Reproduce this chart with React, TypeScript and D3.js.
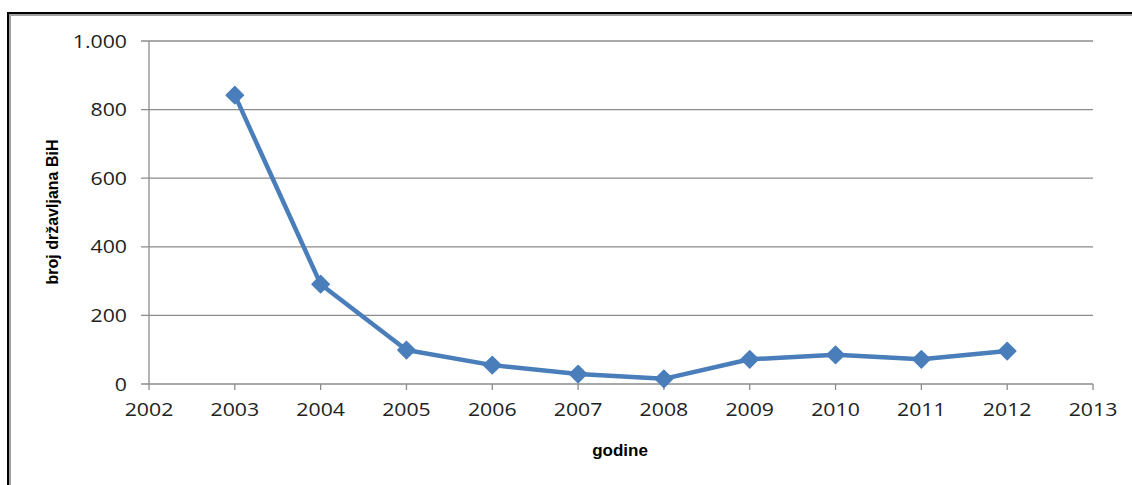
import React from "react";
import * as d3 from "d3";

const years = [2003, 2004, 2005, 2006, 2007, 2008, 2009, 2010, 2011, 2012];
const values = [842, 291, 99, 55, 29, 15, 72, 85, 72, 96];
const yTicks = [0, 200, 400, 600, 800, 1000];
const xTicks = [2002, 2003, 2004, 2005, 2006, 2007, 2008, 2009, 2010, 2011, 2012, 2013];
const yTitle = "broj državljana BiH";
const xTitle = "godine";

const W = 1132;
const H = 485;
const color = "#4a7ebb";
const axisColor = "#8c8c8c";
const fmt = (v: number) => (v >= 1000 ? d3.format(",")(v).replace(/,/g, ".") : String(v));

export default function App() {
  const x = d3.scaleLinear().domain([2002, 2013]).range([149, 1093]);
  const y = d3.scaleLinear().domain([0, 1000]).range([384, 41]);
  const line = d3
    .line<number>()
    .x((_, i) => x(years[i]))
    .y((d) => y(d));
  const font = "'Open Sans', 'DejaVu Sans', sans-serif";
  return (
    <svg
      width={W}
      height={H}
      style={{ position: "absolute", left: 0, top: 0, background: "#fff" }}
    >
      {/* frame */}
      <rect x={8} y={13} width={W + 20} height={H + 20} fill="none" stroke="#000" strokeWidth={2} />
      <rect x={10} y={15} width={W + 20} height={H + 20} fill="none" stroke="#a0a0a0" strokeWidth={2} />
      {/* gridlines */}
      {yTicks.map((t) => (
        <line key={t} x1={141} x2={1093} y1={y(t)} y2={y(t)} stroke={axisColor} strokeWidth={1.3} />
      ))}
      {/* y axis */}
      <line x1={x(2002)} x2={x(2002)} y1={y(1000)} y2={y(0)} stroke={axisColor} strokeWidth={1.3} />
      {/* x ticks */}
      {xTicks.map((t) => (
        <line key={t} x1={x(t)} x2={x(t)} y1={y(0)} y2={y(0) + 6} stroke={axisColor} strokeWidth={1.3} />
      ))}
      {/* y labels */}
      {yTicks.map((t) => (
        <text
          key={t}
          x={127}
          y={y(t)}
          dy="0.35em"
          textAnchor="end"
          fontFamily={font}
          fontSize={19}
          fill="#222"
          transform={`translate(127,0) scale(1.12,1) translate(-127,0)`}
        >
          {fmt(t)}
        </text>
      ))}
      {/* x labels */}
      {xTicks.map((t) => (
        <text
          key={t}
          x={x(t)}
          y={y(0) + 32}
          textAnchor="middle"
          fontFamily={font}
          fontSize={19}
          fill="#222"
          transform={`translate(${x(t)},0) scale(1.12,1) translate(${-x(t)},0)`}
        >
          {t}
        </text>
      ))}
      {/* titles */}
      <text
        transform={`translate(58,212) rotate(-90)`}
        textAnchor="middle"
        fontFamily="'Liberation Sans', Arial, sans-serif"
        fontWeight="bold"
        fontSize={16}
        fill="#000"
      >
        {yTitle}
      </text>
      <text
        x={620}
        y={456}
        textAnchor="middle"
        fontFamily="'Liberation Sans', Arial, sans-serif"
        fontWeight="bold"
        fontSize={17}
        fill="#000"
      >
        {xTitle}
      </text>
      {/* series */}
      <path d={line(values) || ""} fill="none" stroke={color} strokeWidth={4.5} strokeLinejoin="round" />
      {values.map((v, i) => (
        <path
          key={i}
          d={d3.symbol().type(d3.symbolDiamond2).size(190)() || ""}
          transform={`translate(${x(years[i])},${y(v)})`}
          fill={color}
          stroke={color}
          strokeWidth={1.5}
          strokeLinejoin="round"
        />
      ))}
    </svg>
  );
}
